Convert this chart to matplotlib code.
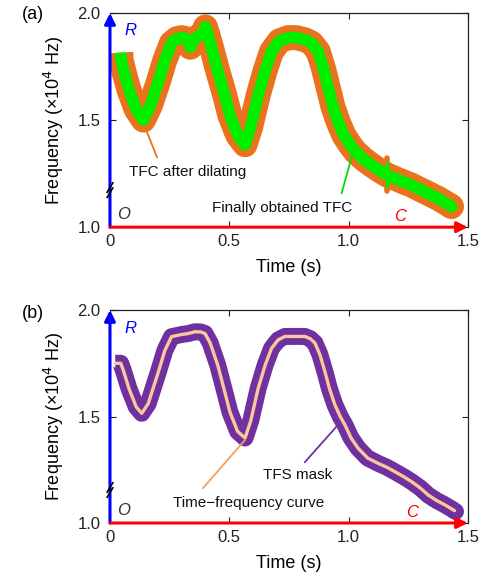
import matplotlib
matplotlib.use("Agg")
import matplotlib.pyplot as plt
import numpy as np

plt.rcParams['font.family'] = ['Liberation Sans', 'DejaVu Sans']

# ---- data (a) : TFC centre line ----
t_a = [0.045, 0.047, 0.060, 0.080, 0.110, 0.140, 0.170, 0.203, 0.230, 0.258,
       0.280, 0.300, 0.320, 0.330, 0.337, 0.345, 0.370, 0.390, 0.400, 0.410,
       0.430, 0.454, 0.480, 0.503, 0.535, 0.566, 0.590, 0.621, 0.650, 0.677,
       0.710, 0.747, 0.780, 0.817, 0.845, 0.873, 0.895, 0.915, 0.935, 0.957,
       0.980, 1.006, 1.027, 1.060, 1.096, 1.130, 1.159, 1.200, 1.264, 1.320,
       1.376, 1.430]
f_a = [1.815, 1.78, 1.72, 1.64, 1.55, 1.50, 1.57, 1.68, 1.78, 1.86,
       1.88, 1.885, 1.88, 1.86, 1.84, 1.87, 1.89, 1.905, 1.935, 1.90,
       1.82, 1.72, 1.62, 1.52, 1.43, 1.385, 1.47, 1.615, 1.73, 1.82,
       1.87, 1.885, 1.885, 1.875, 1.86, 1.82, 1.74, 1.65, 1.56, 1.49,
       1.43, 1.385, 1.355, 1.32, 1.29, 1.265, 1.245, 1.225, 1.196, 1.165,
       1.134, 1.098]
# notch in the dilated band
t_notch = [1.159, 1.159]
f_notch_orange = [1.17, 1.325]
f_notch_green = [1.19, 1.30]

# ---- data (b) : time-frequency curve ----
t_b = [0.022, 0.045, 0.055, 0.080, 0.110, 0.133, 0.160, 0.203, 0.230, 0.258,
       0.300, 0.330, 0.356, 0.380, 0.398, 0.420, 0.452, 0.480, 0.503, 0.535,
       0.566, 0.590, 0.621, 0.650, 0.677, 0.705, 0.733, 0.817, 0.840, 0.859,
       0.880, 0.901, 0.920, 0.943, 0.965, 0.985, 1.010, 1.040, 1.080, 1.124,
       1.160, 1.194, 1.230, 1.264, 1.300, 1.334, 1.370, 1.404, 1.444]
f_b = [1.75, 1.75, 1.72, 1.63, 1.545, 1.515, 1.56, 1.71, 1.81, 1.875,
       1.885, 1.89, 1.898, 1.897, 1.89, 1.845, 1.74, 1.62, 1.52, 1.43,
       1.399, 1.48, 1.632, 1.74, 1.82, 1.86, 1.876, 1.876, 1.865, 1.845,
       1.79, 1.71, 1.63, 1.554, 1.50, 1.46, 1.40, 1.351, 1.305, 1.280,
       1.262, 1.241, 1.218, 1.194, 1.165, 1.131, 1.105, 1.085, 1.058]

xticks = [0, 0.5, 1.0, 1.5]
xticklabels = ['0', '0.5', '1.0', '1.5']
yticks = [1.0, 1.5, 2.0]
yticklabels = ['1.0', '1.5', '2.0']

fig = plt.figure(figsize=(4.83, 5.81), dpi=100)
ax_a = fig.add_axes([0.2277, 0.609, 0.741, 0.3686])
ax_b = fig.add_axes([0.2277, 0.0998, 0.741, 0.3666])


def style(ax, brk):
    ax.set_xlim(0, 1.5)
    ax.set_ylim(1.0, 2.0)
    ax.set_xticks(xticks)
    ax.set_xticklabels(xticklabels)
    ax.set_yticks(yticks)
    ax.set_yticklabels(yticklabels)
    ax.tick_params(direction='in', top=True, right=True, length=4, width=0.8,
                   labelsize=12, colors='#222222')
    ax.tick_params(axis='y', pad=7)
    ax.tick_params(axis='x', pad=5)
    ax.spines['left'].set_visible(False)
    ax.spines['bottom'].set_visible(False)
    for s in ('top', 'right'):
        ax.spines[s].set_color('#222222')
        ax.spines[s].set_linewidth(0.9)
    ax.set_xlabel('Time (s)', fontsize=13, labelpad=7)
    ax.set_ylabel('Frequency (\u00d710$^4$ Hz)', fontsize=13, labelpad=8)
    # arrows for axes
    ax.annotate('', xy=(0, 1.0), xytext=(0, 0), xycoords='axes fraction',
                arrowprops=dict(arrowstyle='-|>', color='#0000FF', lw=2.2,
                                mutation_scale=16, shrinkA=0, shrinkB=0),
                annotation_clip=False, zorder=5)
    ax.annotate('', xy=(1.0, 0), xytext=(0, 0), xycoords='axes fraction',
                arrowprops=dict(arrowstyle='-|>', color='#FF0000', lw=2.2,
                                mutation_scale=16, shrinkA=0, shrinkB=0),
                annotation_clip=False, zorder=5)
    # axis break marks
    for dy in (-0.012, 0.012):
        ax.plot([-0.008, 0.008], [brk + dy - 0.022, brk + dy + 0.022],
                transform=ax.get_yaxis_transform(), color='black', lw=1.2,
                clip_on=False, zorder=6)


style(ax_a, 1.173)
style(ax_b, 1.155)


def band(ax, t, f, color, lw):
    # butt cap at start, rounded end via a marker at the last point
    ax.plot(t, f, color=color, lw=lw, solid_capstyle='butt',
            solid_joinstyle='round', marker='o', markevery=[len(t) - 1],
            markersize=lw, markeredgewidth=0, markerfacecolor=color)


# (a)
band(ax_a, t_a, f_a, '#E8731C', 18)
ax_a.plot(t_notch, f_notch_orange, color='#E8731C', lw=4, solid_capstyle='round')
band(ax_a, t_a, f_a, '#00F000', 8.4)
ax_a.plot(t_notch, f_notch_green, color='#00F000', lw=2.5, solid_capstyle='round')
# (b)
band(ax_b, t_b, f_b, '#7030A0', 12.2)
ax_b.plot(t_b, f_b, color='#F8C99A', lw=2.4, solid_capstyle='round',
          solid_joinstyle='round')

# letters
for ax, yR, yO, xC in ((ax_a, 1.92, 1.06, 1.215), (ax_b, 1.915, 1.06, 1.265)):
    ax.text(0.084, yR, 'R', color='#0000FF', style='italic', fontsize=12,
            ha='center', va='center')
    ax.text(0.055, yO, 'O', color='#333333', style='italic', fontsize=12,
            ha='center', va='center')
    ax.text(xC, 1.05, 'C', color='#FF0000', style='italic', fontsize=12,
            ha='center', va='center')

# annotations (a)
ax_a.text(0.325, 1.257, 'TFC after dilating', fontsize=11, ha='center',
          va='center', color='#111111')
ax_a.plot([0.197, 0.155], [1.327, 1.444], color='#E8731C', lw=1.3)
ax_a.text(0.72, 1.089, 'Finally obtained TFC', fontsize=11, ha='center',
          va='center', color='#111111')
ax_a.plot([0.971, 1.019], [1.159, 1.352], color='#00E000', lw=1.3)
# annotations (b)
ax_b.text(0.582, 1.094, 'Time\u2212frequency curve', fontsize=11, ha='center',
          va='center', color='#111111')
ax_b.plot([0.390, 0.566], [1.164, 1.39], color='#F0A060', lw=1.3)
ax_b.text(0.786, 1.225, 'TFS mask', fontsize=11, ha='center',
          va='center', color='#111111')
ax_b.plot([0.817, 0.955], [1.286, 1.46], color='#7030A0', lw=1.3)

fig.text(0.045, 0.975, '(a)', fontsize=13, ha='left', va='center')
fig.text(0.045, 0.46, '(b)', fontsize=13, ha='left', va='center')

fig.savefig('out.png', dpi=100)
